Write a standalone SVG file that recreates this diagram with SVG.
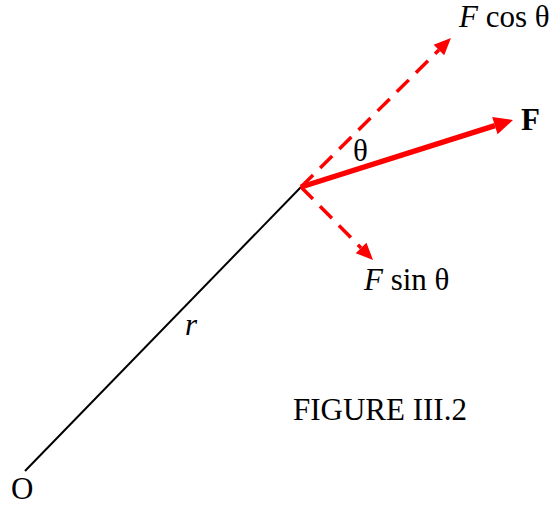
<svg xmlns="http://www.w3.org/2000/svg" width="557" height="506" viewBox="0 0 557 506">
<style>
text { font-family: "Liberation Serif", "Times New Roman", serif; font-size: 31px; fill: #000; }
.it { font-style: italic; }
.red { stroke: #ff0000; fill: none; }
.dash { stroke-width: 3.5; stroke-dasharray: 17 10; }
</style>
<defs>
<marker id="headBig" markerUnits="userSpaceOnUse" markerWidth="22" markerHeight="20" refX="0" refY="9" orient="auto" overflow="visible">
<path d="M0,0 L19,9 L0,18 Z" fill="#ff0000"/>
</marker>
<marker id="headSmall" markerUnits="userSpaceOnUse" markerWidth="20" markerHeight="18" refX="0" refY="7.5" orient="auto" overflow="visible">
<path d="M0,0 L17,7.5 L0,15 Z" fill="#ff0000"/>
</marker>
</defs>
<rect width="557" height="506" fill="#fff"/>
<g id="connectors">
<line id="r-line" x1="25" y1="471" x2="301" y2="187" stroke="#000" stroke-width="2"/>
<line id="F-vec" class="red" x1="301" y1="187" x2="494.9" y2="125.7" stroke-width="5.5" marker-end="url(#headBig)"/>
<line id="Fcos-vec" class="red dash" x1="301" y1="187" x2="438.9" y2="50" marker-end="url(#headSmall)"/>
<line id="Fsin-vec" class="red dash" x1="301" y1="187" x2="361.1" y2="247.9" marker-end="url(#headSmall)"/>
</g>
<g id="label-Fcos"><text x="459" y="27"><tspan class="it">F</tspan> cos θ</text></g>
<g id="label-F"><text x="521" y="130" font-weight="bold" font-size="27">F</text></g>
<g id="label-theta"><text x="353" y="161" font-size="28">θ</text></g>
<g id="label-Fsin"><text x="364" y="290"><tspan class="it">F</tspan> sin θ</text></g>
<g id="label-r"><text x="185" y="335" class="it">r</text></g>
<g id="caption"><text x="293" y="420">FIGURE III.2</text></g>
<g id="origin"><text x="11" y="499">O</text></g>
</svg>
